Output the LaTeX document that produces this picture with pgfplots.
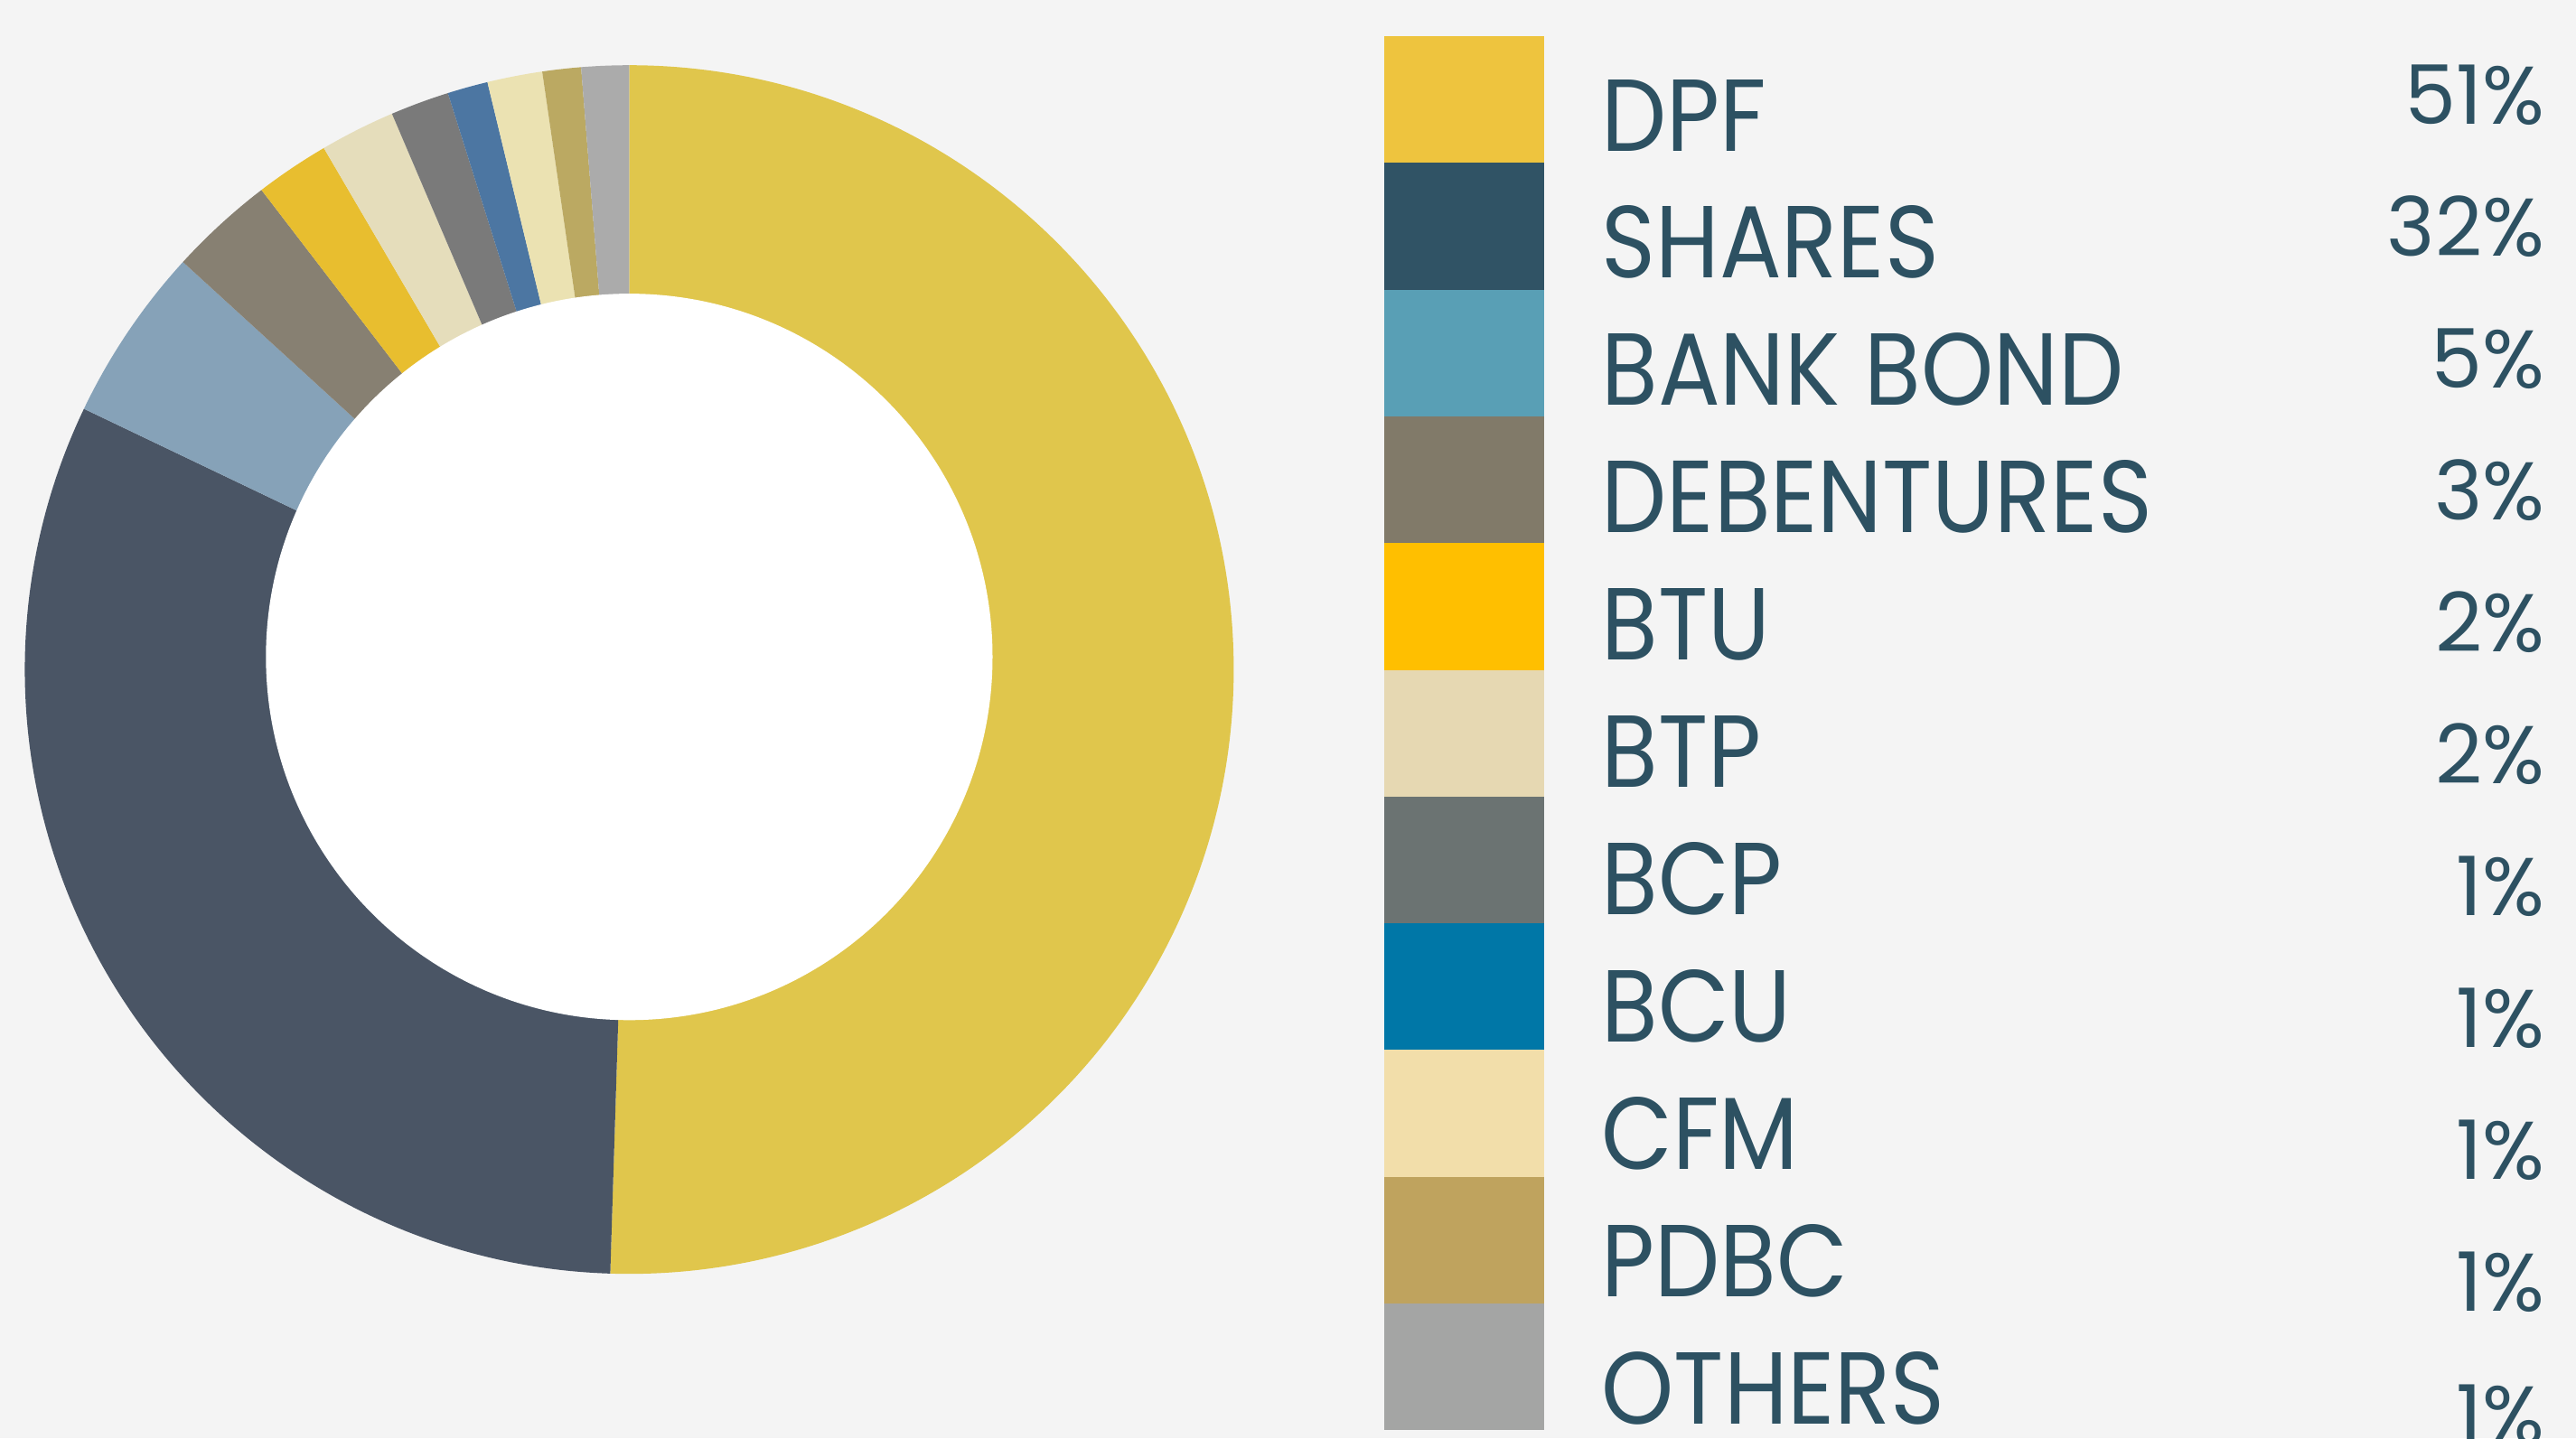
\documentclass[border=0pt]{standalone}
\usepackage{fontspec}
\setmainfont{Poppins}
\usepackage{pgfplots}
\usepackage{pgfplotstable}
\pgfplotsset{compat=1.18}

\definecolor{bg}{HTML}{F4F4F4}
\definecolor{txt}{HTML}{2D5162}
% pie colours
\definecolor{pie0}{HTML}{E0C64C}
\definecolor{pie1}{HTML}{4A5565}
\definecolor{pie2}{HTML}{86A2B8}
\definecolor{pie3}{HTML}{878072}
\definecolor{pie4}{HTML}{E8BE2F}
\definecolor{pie5}{HTML}{E5DDBB}
\definecolor{pie6}{HTML}{7A7A7A}
\definecolor{pie7}{HTML}{4C76A2}
\definecolor{pie8}{HTML}{EBE2B2}
\definecolor{pie9}{HTML}{BBA962}
\definecolor{pie10}{HTML}{ABABAB}
% legend colours
\definecolor{leg0}{HTML}{EEC43E}
\definecolor{leg1}{HTML}{305365}
\definecolor{leg2}{HTML}{599FB5}
\definecolor{leg3}{HTML}{817A69}
\definecolor{leg4}{HTML}{FFBF00}
\definecolor{leg5}{HTML}{E6D8B2}
\definecolor{leg6}{HTML}{6B7372}
\definecolor{leg7}{HTML}{0077A7}
\definecolor{leg8}{HTML}{F2DEAA}
\definecolor{leg9}{HTML}{BFA35E}
\definecolor{leg10}{HTML}{A4A5A4}

\pgfplotstableread[col sep=comma]{
label,pct,disp
DPF,50.50,51
SHARES,31.60,32
BANK BOND,4.68,5
DEBENTURES,2.81,3
BTU,1.98,2
BTP,2.01,2
BCP,1.57,1
BCU,1.08,1
CFM,1.47,1
PDBC,1.03,1
OTHERS,1.27,1
}\chartdata

\begin{document}
\begin{tikzpicture}
\path[use as bounding box, fill=bg] (0,0) rectangle (28.51,15.92);
\begin{axis}[at={(0,0)}, anchor=origin, x=1cm, y=1cm,
  xmin=0, xmax=28.51, ymin=0, ymax=15.92, hide axis, clip=false]
\pgfplotsextra{%
  \gdef\cumval{0}%
  \foreach \i in {0,...,10} {%
    \pgfplotstablegetelem{\i}{pct}\of\chartdata \let\pv\pgfplotsretval
    \pgfmathsetmacro\aA{90-3.6*\cumval}%
    \pgfmathsetmacro\aB{90-3.6*(\cumval+\pv)}%
    \fill[pie\i] (axis cs:6.964,8.508) -- ++(\aA:6.69)
       arc[start angle=\aA, end angle=\aB, radius=6.69] -- cycle;
    \pgfmathsetmacro\newcum{\cumval+\pv}\global\let\cumval\newcum
  }%
  \fill[white] (axis cs:6.964,8.648) circle[radius=4.021];
  \foreach \i in {0,...,10} {%
    \pgfplotstablegetelem{\i}{label}\of\chartdata \let\lbl\pgfplotsretval
    \pgfplotstablegetelem{\i}{disp}\of\chartdata \let\dsp\pgfplotsretval
    \pgfmathsetmacro\yt{15.52-1.403*\i}%
    \pgfmathsetmacro\yb{15.52-1.403*(\i+1)}%
    \pgfmathsetmacro\yl{14.25-1.409*\i}%
    \pgfmathsetmacro\yp{14.55-1.461*\i}%
    \fill[leg\i] (axis cs:15.32,\yt) rectangle (axis cs:17.09,\yb);
    \node[anchor=base west, inner sep=0pt, text=txt, xscale=0.9,
      font=\fontsize{32.25}{36}\selectfont] at (axis cs:17.72,\yl) {\lbl};
    \node[anchor=base east, inner sep=0pt, text=txt, xscale=1.0,
      font=\fontsize{25.8}{30}\selectfont] at (axis cs:28.17,\yp) {\dsp\%};
  }%
}
\end{axis}
\end{tikzpicture}
\end{document}
